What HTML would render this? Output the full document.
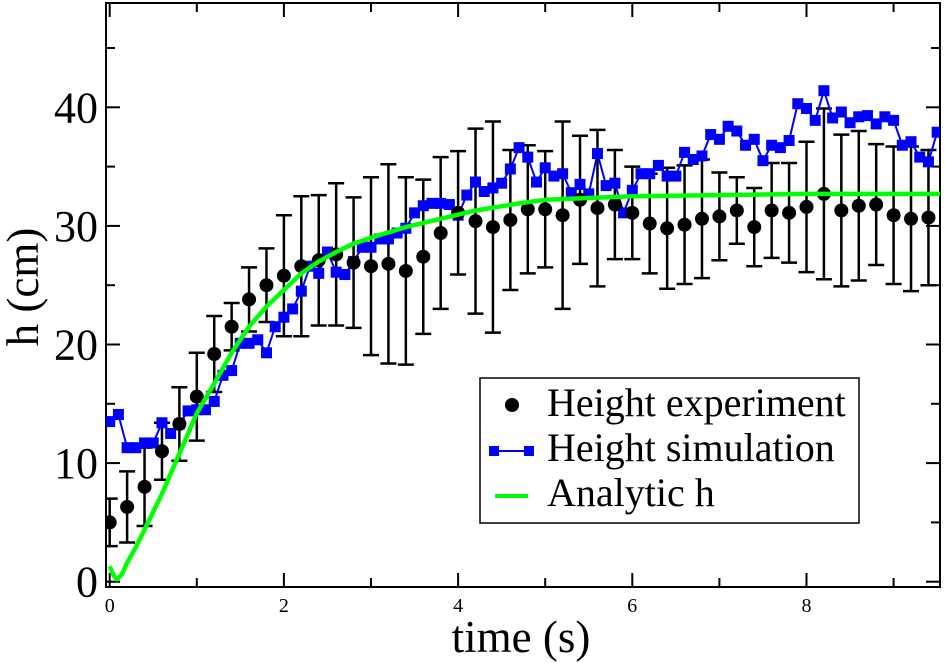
<!DOCTYPE html>
<html><head><meta charset="utf-8"><style>
html,body{margin:0;padding:0;background:#fff;}
svg{display:block;font-family:"Liberation Serif",serif;}
</style></head><body>
<svg id="chart" width="945" height="663" viewBox="0 0 945 663" xmlns="http://www.w3.org/2000/svg"></svg>
<script>
const expT = [0,0.2,0.4,0.6,0.8,1.0,1.2,1.4,1.6,1.8,2.0,2.2,2.4,2.6,2.8,3.0,3.2,3.4,3.6,3.8,4.0,4.2,4.4,4.6,4.8,5.0,5.2,5.4,5.6,5.8,6.0,6.2,6.4,6.6,6.8,7.0,7.2,7.4,7.6,7.8,8.0,8.2,8.4,8.6,8.8,9.0,9.2,9.4];
const expH = [5.0,6.3,8.0,11.0,13.3,15.6,19.2,21.5,23.8,25.0,25.8,26.6,27.1,27.6,26.9,26.6,26.8,26.2,27.4,29.4,31.1,30.4,29.9,30.5,31.4,31.4,30.9,32.2,31.5,31.8,31.1,30.2,29.8,30.1,30.6,30.8,31.3,29.9,31.3,31.1,31.6,32.7,31.3,31.7,31.8,30.9,30.6,30.7];
const expErr = [2.0,3.0,3.3,2.4,3.1,3.7,3.2,2.0,2.7,3.1,5.1,5.9,5.5,6.0,5.5,7.5,8.4,7.9,6.5,6.4,5.2,7.8,8.9,5.9,5.4,4.9,7.9,5.4,6.6,4.6,3.9,4.2,5.1,5.0,5.0,3.7,2.8,3.3,4.0,4.2,5.5,7.2,6.4,6.3,5.1,5.8,6.1,5.7];
const simT = [0,0.1,0.2,0.3,0.4,0.5,0.6,0.7,0.8,0.9,1.0,1.1,1.2,1.3,1.4,1.5,1.6,1.7,1.8,1.9,2.0,2.1,2.2,2.3,2.4,2.5,2.6,2.7,2.8,2.9,3.0,3.1,3.2,3.3,3.4,3.5,3.6,3.7,3.8,3.9,4.0,4.1,4.2,4.3,4.4,4.5,4.6,4.7,4.8,4.9,5.0,5.1,5.2,5.3,5.4,5.5,5.6,5.7,5.8,5.9,6.0,6.1,6.2,6.3,6.4,6.5,6.6,6.7,6.8,6.9,7.0,7.1,7.2,7.3,7.4,7.5,7.6,7.7,7.8,7.9,8.0,8.1,8.2,8.3,8.4,8.5,8.6,8.7,8.8,8.9,9.0,9.1,9.2,9.3,9.4,9.5];
const simH = [13.5,14.1,11.3,11.3,11.7,11.7,13.4,12.5,13.3,14.4,14.5,14.5,15.2,17.4,17.8,20.1,20.1,20.4,19.3,21.5,22.3,23.0,24.5,26.6,26.0,27.8,26.1,25.9,27.0,28.2,28.2,28.9,28.9,29.4,29.8,31.1,31.7,31.9,31.9,31.8,30.9,32.6,33.7,32.9,33.2,33.6,34.8,36.6,35.8,33.7,34.9,34.2,34.4,32.8,33.5,32.7,36.1,33.4,33.6,31.1,33.0,34.4,34.4,35.1,34.2,34.2,36.2,35.6,35.9,37.7,37.3,38.4,38.0,36.8,37.3,35.5,36.8,36.6,37.2,40.3,39.9,38.9,41.4,39.1,39.6,38.7,39.2,39.3,38.6,39.2,38.9,36.8,37.1,35.8,35.4,37.9];
const anaT = [0,0.04,0.08,0.14,0.2,0.3,0.4,0.5,0.6,0.7,0.8,0.9,1.0,1.2,1.4,1.6,1.8,2.0,2.2,2.4,2.6,2.8,3.0,3.4,3.8,4.2,4.7,5.0,6.0,7.0,8.0,9.55];
const anaH = [1.3,0.6,0.2,0.6,1.6,2.9,4.4,5.9,7.4,9.1,10.8,12.5,14.2,16.7,19.3,21.5,23.2,24.6,26.0,27.0,27.8,28.5,29.0,29.9,30.6,31.3,31.9,32.2,32.5,32.6,32.7,32.7];
const xTicks = [0,2,4,6,8];
const yTicks = [0,10,20,30,40];

const NS="http://www.w3.org/2000/svg";
const svg=document.getElementById('chart');
const L=106,R=940,T=3,B=587;
const X=t=>109.7+t*87.1;
const Y=h=>581.7-h*11.86;
function mk(tag,attrs,parent){const e=document.createElementNS(NS,tag);for(const k in attrs)e.setAttribute(k,attrs[k]);(parent||svg).appendChild(e);return e;}

const frame=mk('rect',{x:L,y:T,width:R-L,height:B-T,fill:'none',stroke:'#000','stroke-width':2});



for(let v=0;v<=9.5;v+=1){
  const major=v%2===0,len=major?14:9,x=X(v);
  const tk=mk('line',{x1:x,x2:x,y1:B,y2:B-len,stroke:'#000','stroke-width':2});
  
  
  const tt=mk('line',{x1:x,x2:x,y1:T,y2:T+len,stroke:'#000','stroke-width':2});
  
  
}
for(let v=0;v<=45;v+=5){
  const major=v%10===0,len=major?14:9,y=Y(v);
  const tk=mk('line',{x1:L,x2:L+len,y1:y,y2:y,stroke:'#000','stroke-width':2});
  
  
  const tr=mk('line',{x1:R,x2:R-len,y1:y,y2:y,stroke:'#000','stroke-width':2});
  
  
}
xTicks.forEach(v=>{
  const t=mk('text',{x:X(v),y:612,'font-size':20,'text-anchor':'middle'});
  t.textContent=String(v);
  
  
});
yTicks.forEach(v=>{
  const t=mk('text',{x:98,y:Y(v)+15,'font-size':44,'text-anchor':'end'});
  t.textContent=String(v);
  
  
});
const xt=mk('text',{x:521,y:652,'font-size':45,'text-anchor':'middle'});
xt.textContent='time (s)';


const yt=mk('text',{x:0,y:0,'font-size':45,'text-anchor':'middle',transform:'translate(38,287) rotate(-90)'});
yt.textContent='h (cm)';



const defs=mk('defs',{});
const cp=mk('clipPath',{id:'pc'},defs);
mk('rect',{x:L,y:T,width:R-L,height:B-T},cp);
const g=mk('g',{'clip-path':'url(#pc)'});



expT.forEach((t,i)=>{
  const x=X(t),y1=Y(expH[i]+expErr[i]),y2=Y(expH[i]-expErr[i]);
  const eb=mk('path',{d:`M${x},${y1}V${y2}M${x-8},${y1}H${x+8}M${x-8},${y2}H${x+8}`,stroke:'#000','stroke-width':2.5,fill:'none'},g);
  
  
});
const sp=mk('polyline',{points:simT.map((t,i)=>X(t)+','+Y(simH[i])).join(' '),fill:'none',stroke:'#0000ff','stroke-width':2},g);


simT.forEach((t,i)=>{
  const r=mk('rect',{x:X(t)-5.5,y:Y(simH[i])-5.5,width:11,height:11,fill:'#0000ff'},g);
  
  
});
expT.forEach((t,i)=>{
  const c=mk('circle',{cx:X(t),cy:Y(expH[i]),r:7,fill:'#000'},g);
  
  
});
const ap=mk('polyline',{points:anaT.map((t,i)=>X(t)+','+Y(anaH[i])).join(' '),fill:'none',stroke:'#00ff00','stroke-width':4.5,'stroke-linejoin':'round'},g);



const lg=mk('g',{});


mk('rect',{x:480,y:378,width:379,height:145,fill:'#fff',stroke:'#000','stroke-width':1.5},lg);
const e1=mk('circle',{cx:512,cy:405,r:7,fill:'#000'},lg);


mk('line',{x1:494,x2:528,y1:451,y2:451,stroke:'#0000ff','stroke-width':2},lg);
mk('rect',{x:489,y:446,width:10,height:10,fill:'#0000ff'},lg);
mk('rect',{x:524,y:446,width:10,height:10,fill:'#0000ff'},lg);
mk('line',{x1:495,x2:528,y1:496,y2:496,stroke:'#00ff00','stroke-width':4},lg);
[['Height experiment',416],['Height simulation',461],['Analytic h',506]].forEach(([s,y])=>{
  const t=mk('text',{x:547,y:y,'font-size':40},lg);
  t.textContent=s;
  
  
});
</script>
</body></html>
